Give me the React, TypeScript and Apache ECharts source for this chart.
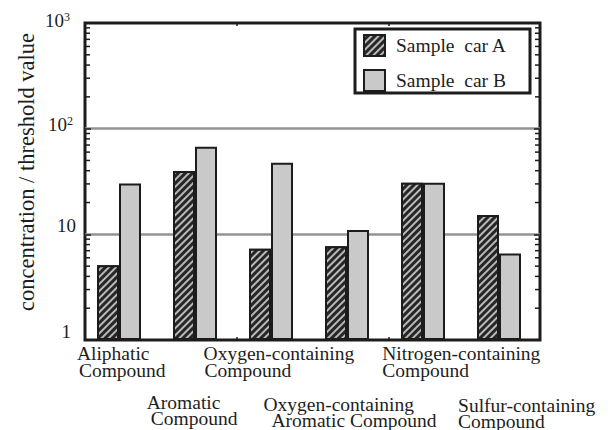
import React, { useEffect, useRef } from 'react';
import * as echarts from 'echarts';

const CATEGORIES = [
  'Aliphatic\nCompound',
  'Aromatic\nCompound',
  'Oxygen-containing\nCompound',
  'Oxygen-containing\nAromatic Compound',
  'Nitrogen-containing\nCompound',
  'Sulfur-containing\nCompound',
];
const SERIES_NAMES = ['Sample  car A', 'Sample  car B'];
const CAR_A = [5.1, 39.7, 7.3, 7.7, 30.8, 15.2];
const CAR_B = [30.3, 67.4, 47.5, 11.0, 30.8, 6.6];
const Y_TICKS = [1, 10, 100, 1000];
const Y_TICK_BASE = ['1', '10', '10', '10'];
const Y_TICK_EXP = ['', '', '2', '3'];
const MINOR_TICKS = [2, 3, 4, 5, 6, 7, 8, 9, 20, 30, 40, 50, 60, 70, 80, 90, 200, 300, 400, 500, 600, 700, 800, 900];
const Y_TITLE = 'concentration / threshold value';

// layout nudges (not data)
const LABEL_ROW = [0, 1, 0, 1, 0, 1];
const LABEL_DX = [[-46, -44], [-52, -48], [-71, -70], [-87, -79], [-44, -44], [-44, -44]];
const LABEL_DY = [0, 0, 0, 2.5, 0, 3];
const ROW_Y = [353.5, 402];
const ROW_STEP = [17, 16];
const Y_LABEL_NUDGE = [[-14, -9], [-9, -9], [-12, -4], [-15, -3]];

const FONT = "'Liberation Serif', 'Times New Roman', serif";
const INK = '#1c1c1c';

export default function App() {
  const ref = useRef<HTMLDivElement>(null);
  useEffect(() => {
    const chart = echarts.init(ref.current as HTMLDivElement, null, { renderer: 'svg' });
    const tick = { show: true, inside: true, length: 3, lineStyle: { color: INK, width: 1.5 } };
    const option: any = {
      animation: false,
      backgroundColor: '#ffffff',
      grid: [
        { left: 85, right: 68, top: 23, bottom: 90, show: true, borderColor: INK, borderWidth: 3, backgroundColor: 'transparent' },
        { left: 81, right: 71, top: 23, bottom: 90 },
      ],
      xAxis: [
        { type: 'category', gridIndex: 0, data: CATEGORIES, position: 'bottom', axisLine: { show: false }, axisTick: tick, axisLabel: { show: false } },
        { type: 'category', gridIndex: 0, data: CATEGORIES, position: 'top', axisLine: { show: false }, axisTick: tick, axisLabel: { show: false } },
        { type: 'category', gridIndex: 1, data: CATEGORIES, show: false },
      ],
      yAxis: [
        {
          type: 'log', gridIndex: 0, logBase: 10, min: 1, max: 1000, position: 'left',
          axisLine: { show: false },
          axisTick: { show: true, inside: true, length: 6, lineStyle: { color: INK, width: 1.5 } },
          axisLabel: { show: false },
          splitLine: { show: true, showMinLine: false, showMaxLine: false, lineStyle: { color: '#939393', width: 2.5 } },
        },
        {
          type: 'log', gridIndex: 0, logBase: 10, min: 1, max: 1000, position: 'right',
          axisLine: { show: false },
          axisTick: { show: true, inside: true, length: 6, lineStyle: { color: INK, width: 1.5 } },
          axisLabel: { show: false },
          splitLine: { show: false },
        },
        { type: 'log', gridIndex: 1, logBase: 10, min: 1, max: 1000, show: false },
      ],
      legend: {
        orient: 'vertical',
        left: 355,
        top: 29,
        padding: [5, 14, 1, 8],
        itemWidth: 21,
        itemHeight: 21,
        itemGap: 12,
        borderColor: INK,
        borderWidth: 3,
        selectedMode: false,
        icon: 'rect',
        data: SERIES_NAMES,
        textStyle: { fontFamily: FONT, fontSize: 19.5, lineHeight: 21, color: '#1e1e1e', width: 120, padding: [0, 0, 0, 6] },
      },
      series: [
        {
          name: SERIES_NAMES[0], type: 'bar', xAxisIndex: 2, yAxisIndex: 2, data: CAR_A,
          barWidth: 22, barGap: '0%',
          itemStyle: {
            color: '#262626', borderColor: INK, borderWidth: 2,
            decal: { symbol: 'rect', symbolSize: 1, color: 'rgba(200,200,200,0.9)', dashArrayX: [1, 0], dashArrayY: [1.7, 2.5], rotation: -Math.PI / 4 },
          },
        },
        {
          name: SERIES_NAMES[1], type: 'bar', xAxisIndex: 2, yAxisIndex: 2, data: CAR_B,
          barWidth: 22, barGap: '0%',
          itemStyle: { color: '#c9c9c9', borderColor: INK, borderWidth: 2 },
        },
        {
          type: 'custom', xAxisIndex: 0, yAxisIndex: 0, silent: true, z: 4,
          data: MINOR_TICKS.map((v) => [0, v]),
          renderItem: (params: any, api: any) => {
            const cs = params.coordSys;
            const y = api.coord([0, api.value(1)])[1];
            return {
              type: 'group',
              children: [
                { type: 'line', shape: { x1: cs.x, y1: y, x2: cs.x + 5, y2: y }, style: { stroke: INK, lineWidth: 1.5 } },
                { type: 'line', shape: { x1: cs.x + cs.width - 5, y1: y, x2: cs.x + cs.width, y2: y }, style: { stroke: INK, lineWidth: 1.5 } },
              ],
            };
          },
        },
      ],
    };
    chart.setOption(option);

    const graphics: any[] = [];
    graphics.push({
      type: 'text', x: 26, y: 172, rotation: Math.PI / 2, silent: true,
      style: { text: Y_TITLE, font: `22.5px ${FONT}`, fill: '#1e1e1e', align: 'center', verticalAlign: 'middle', textAlign: 'center', textVerticalAlign: 'middle' },
    });
    Y_TICKS.forEach((v, i) => {
      const py = chart.convertToPixel({ yAxisIndex: 0 } as any, v) as any as number;
      const exp = Y_TICK_EXP[i];
      const text = exp ? `{b|${Y_TICK_BASE[i]}}{s|${exp}}` : `{b|${Y_TICK_BASE[i]}}`;
      graphics.push({
        type: 'text', x: 85 + Y_LABEL_NUDGE[i][0], y: py + Y_LABEL_NUDGE[i][1], silent: true,
        style: {
          text, align: 'right', verticalAlign: 'middle', textAlign: 'right', textVerticalAlign: 'middle',
          rich: {
            b: { fontFamily: FONT, fontSize: 19, fill: '#1e1e1e', lineHeight: 19 },
            s: { fontFamily: FONT, fontSize: 12, fill: '#1e1e1e', lineHeight: 12, verticalAlign: 'top' },
          },
        },
      });
    });
    CATEGORIES.forEach((c, i) => {
      const cx = chart.convertToPixel({ xAxisIndex: 0 } as any, i) as any as number;
      const lines = c.split('\n');
      const row = LABEL_ROW[i];
      lines.forEach((ln, j) => {
        graphics.push({
          type: 'text', x: cx + LABEL_DX[i][j], y: ROW_Y[row] + LABEL_DY[i] + j * ROW_STEP[row], silent: true,
          style: {
            text: ln, font: `19.5px ${FONT}`, lineHeight: ROW_STEP[row] - 0.5, fill: '#1e1e1e',
            align: 'left', verticalAlign: 'middle', textAlign: 'left', textVerticalAlign: 'middle',
          },
        });
      });
    });
    chart.setOption({ graphic: graphics });
    return () => chart.dispose();
  }, []);
  return <div ref={ref} style={{ width: 608, height: 430, position: 'absolute', left: 0, top: 0 }} />;
}
